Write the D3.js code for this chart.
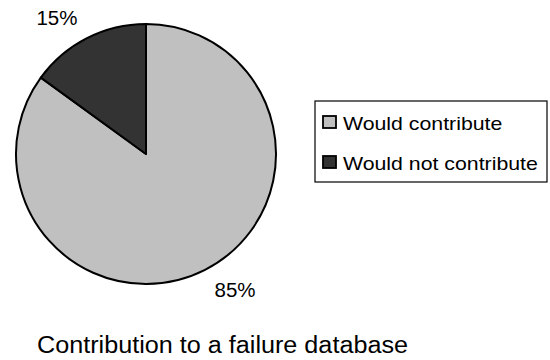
<!DOCTYPE html>
<html>
<head>
<meta charset="utf-8">
<script src="https://cdn.jsdelivr.net/npm/d3@7"></script>
<style>
  html, body { margin: 0; padding: 0; background: #ffffff; }
  svg { display: block; }
  text { font-family: "Liberation Sans", Arial, sans-serif; fill: #000; }
</style>
</head>
<body>
<svg id="chart" width="550" height="360"></svg>
<script>
// Survey answers: share of respondents
const categories = ["Would contribute", "Would not contribute"];
const shares = [85, 15];
const sliceLabels = ["85%", "15%"];
const colors = ["#c0c0c0", "#333333"];
const title = "Contribution to a failure database";

const svg = d3.select("#chart");
const cx = 146, cy = 154, radius = 130;

const data = categories.map((c, i) => ({ name: c, value: shares[i], label: sliceLabels[i], color: colors[i] }));

const pie = d3.pie().sort(null).value(d => d.value);
const arcs = pie(data);
const arc = d3.arc().innerRadius(0).outerRadius(radius);

const g = svg.append("g").attr("transform", `translate(${cx},${cy})`);

g.selectAll("path.slice")
  .data(arcs)
  .join("path")
  .attr("class", "slice")
  .attr("d", arc)
  .attr("fill", d => d.data.color)
  .attr("stroke", "#000")
  .attr("stroke-width", 2)
  .attr("stroke-linejoin", "round");

// Percentage labels just outside the rim
const labelRadius = 151;
g.selectAll("text.pct")
  .data(arcs)
  .join("text")
  .attr("class", "pct")
  .each(function (d) {
    const a = (d.startAngle + d.endAngle) / 2;
    const x = labelRadius * Math.sin(a);
    const y = -labelRadius * Math.cos(a);
    d3.select(this)
      .attr("x", x)
      .attr("y", y + (y < 0 ? 5.5 : 8))
      .attr("text-anchor", x < 0 ? "end" : "start");
  })
  .attr("font-size", 20.5)
  .text(d => d.data.label);

// Legend
const legend = svg.append("g").attr("transform", "translate(315,101)");
legend.append("rect")
  .attr("x", 0).attr("y", 0)
  .attr("width", 232).attr("height", 81)
  .attr("fill", "#fff")
  .attr("stroke", "#000")
  .attr("stroke-width", 1.2);

const rows = legend.selectAll("g.item")
  .data(data)
  .join("g")
  .attr("class", "item")
  .attr("transform", (d, i) => `translate(8,${15 + i * 40})`);

rows.append("rect")
  .attr("width", 13).attr("height", 12)
  .attr("fill", d => d.color)
  .attr("stroke", "#000")
  .attr("stroke-width", 1.8);

// Legend labels: glyphs are a little wider than plain Arial
rows.append("text")
  .attr("x", 20)
  .attr("y", 13.8)
  .attr("font-size", 19)
  .each(function (d) {
    const t = d3.select(this).text(d.name);
    const w = this.getComputedTextLength();
    t.attr("textLength", w * 1.12).attr("lengthAdjust", "spacingAndGlyphs");
  });

// Chart title below the pie
svg.append("text")
  .attr("x", 37)
  .attr("y", 353)
  .attr("font-size", 23)
  .attr("textLength", 371)
  .attr("lengthAdjust", "spacingAndGlyphs")
  .text(title);
</script>
</body>
</html>
